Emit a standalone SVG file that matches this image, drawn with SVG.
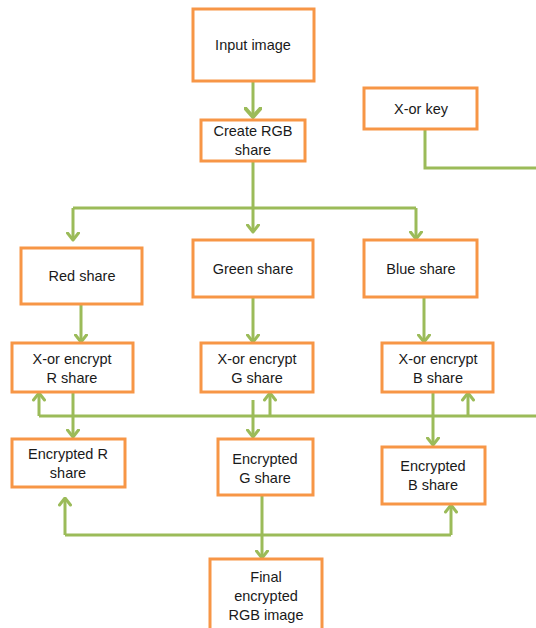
<svg xmlns="http://www.w3.org/2000/svg" width="536" height="628" viewBox="0 0 536 628">
<style>
.box{fill:#fff;stroke:#F79646;stroke-width:3}
.t{font-family:"Liberation Sans",Arial,sans-serif;font-size:14.5px;fill:#1a1a1a;text-anchor:middle}
.c{fill:none;stroke:#9BBB59;stroke-width:3}
</style>
<defs>
<marker id="ah" viewBox="0 0 10 14" refX="8.5" refY="7" markerWidth="10" markerHeight="14" markerUnits="userSpaceOnUse" orient="auto">
<path d="M1.5,1.5 L8.5,7 L1.5,12.5" fill="none" stroke="#9BBB59" stroke-width="3" stroke-linecap="round" stroke-linejoin="round"/>
</marker>
<marker id="ahb" viewBox="0 0 12 18" refX="10" refY="9" markerWidth="12" markerHeight="18" markerUnits="userSpaceOnUse" orient="auto">
<path d="M1.5,1.5 L10,9 L1.5,16.5" fill="none" stroke="#9BBB59" stroke-width="4" stroke-linecap="round" stroke-linejoin="round"/>
</marker>
</defs>
<g id="connectors">
<path class="c" d="M253,81 V117" stroke-width="4" marker-end="url(#ahb)"/>
<path class="c" d="M253,161 V232" marker-end="url(#ah)"/>
<path class="c" d="M73,208 H416"/>
<path class="c" d="M73,208 V240" marker-end="url(#ah)"/>
<path class="c" d="M416,208 V239" marker-end="url(#ah)"/>
<path class="c" d="M81,304 V342" marker-end="url(#ah)"/>
<path class="c" d="M253,297 V342" marker-end="url(#ah)"/>
<path class="c" d="M424,297 V342" marker-end="url(#ah)"/>
<path class="c" d="M425,129 V168 H536"/>
<path class="c" d="M39,416 H536"/>
<path class="c" d="M39,416 V393" marker-end="url(#ah)"/>
<path class="c" d="M270,416 V393" marker-end="url(#ah)"/>
<path class="c" d="M468,416 V393" marker-end="url(#ah)"/>
<path class="c" d="M73,392 V437" marker-end="url(#ah)"/>
<path class="c" d="M253,400 V437" marker-end="url(#ah)"/>
<path class="c" d="M433,392 V445" marker-end="url(#ah)"/>
<path class="c" d="M262,495 V558" marker-end="url(#ah)"/>
<path class="c" d="M65,535 H451"/>
<path class="c" d="M65,535 V498" marker-end="url(#ah)"/>
<path class="c" d="M451,535 V505" marker-end="url(#ah)"/>
</g>
<g id="input"><rect class="box" x="193" y="9" width="121" height="72"/><text class="t" x="253" y="50">Input image</text></g>
<g id="creatergb"><rect class="box" x="201" y="120" width="104" height="41"/><text class="t" x="253" y="136">Create RGB</text><text class="t" x="253" y="155">share</text></g>
<g id="xorkey"><rect class="box" x="364" y="88" width="113" height="41"/><text class="t" x="421" y="114">X-or key</text></g>
<g id="red"><rect class="box" x="21" y="248" width="121" height="56"/><text class="t" x="82" y="281">Red share</text></g>
<g id="green"><rect class="box" x="193" y="240" width="120" height="57"/><text class="t" x="253" y="274">Green share</text></g>
<g id="blue"><rect class="box" x="364" y="240" width="113" height="57"/><text class="t" x="421" y="274">Blue share</text></g>
<g id="xorr"><rect class="box" x="12" y="343" width="121" height="49"/><text class="t" x="72" y="364">X-or encrypt</text><text class="t" x="72" y="383">R share</text></g>
<g id="xorg"><rect class="box" x="201" y="343" width="112" height="49"/><text class="t" x="257" y="364">X-or encrypt</text><text class="t" x="257" y="383">G share</text></g>
<g id="xorb"><rect class="box" x="382" y="343" width="111" height="49"/><text class="t" x="438" y="364">X-or encrypt</text><text class="t" x="438" y="383">B share</text></g>
<g id="encr"><rect class="box" x="12" y="439" width="113" height="48"/><text class="t" x="68" y="459">Encrypted R</text><text class="t" x="68" y="478">share</text></g>
<g id="encg"><rect class="box" x="218" y="439" width="95" height="56"/><text class="t" x="265" y="464">Encrypted</text><text class="t" x="265" y="483">G share</text></g>
<g id="encb"><rect class="box" x="382" y="447" width="103" height="57"/><text class="t" x="433" y="471">Encrypted</text><text class="t" x="433" y="490">B share</text></g>
<g id="final"><rect class="box" x="210" y="559" width="112" height="80"/><text class="t" x="266" y="582">Final</text><text class="t" x="266" y="601">encrypted</text><text class="t" x="266" y="620">RGB image</text></g>
</svg>
